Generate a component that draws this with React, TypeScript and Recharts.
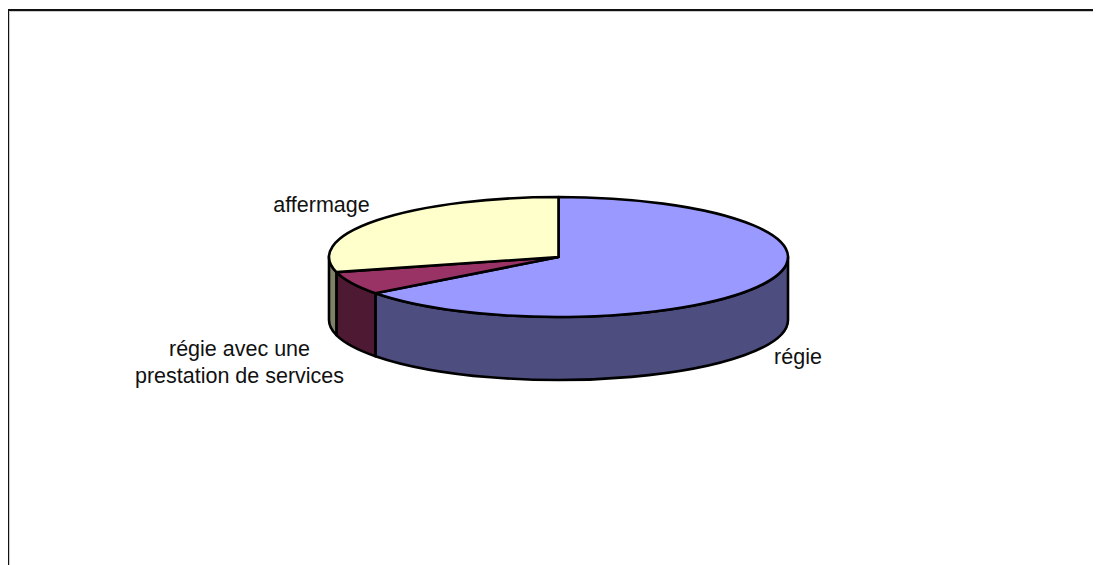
import { PieChart, Pie } from "recharts";

const categories = ["régie", "régie avec une prestation de services", "affermage"];
const values = [64.7, 6.25, 29.05];
const labelRows = [["régie"], ["régie avec une", "prestation de services"], ["affermage"]];

const topColors = ["#9999FF", "#993366", "#FFFFCC"];
const wallColors = ["#4D4D80", "#4D1933", "#808066"];

const CX = 550.5;
const CY = 249;
const RX = 229.5;
const RY = 60;
const DEPTH = 63;

// label centre relative to the pie centre, one per category
const labelOffsets = [
  { x: 239.5, y: 107 },
  { x: -319, y: 99 },
  { x: -237, y: -45 },
];

const data = categories.map((name, i) => ({ name, value: values[i] }));

const pt = (deg: number, cx: number, cy: number) => {
  const a = (deg * Math.PI) / 180;
  return { x: cx + RX * Math.cos(a), y: cy - RY * Math.sin(a) };
};

// the library only draws circles, so each sector is flattened into an ellipse here
const Slice3D = (props: any) => {
  const { cx, cy, startAngle, endAngle, index } = props;
  const s = pt(startAngle, cx, cy);
  const e = pt(endAngle, cx, cy);
  const large = startAngle - endAngle > 180 ? 1 : 0;
  const top = `M${cx},${cy}L${s.x},${s.y}A${RX},${RY} 0 ${large} 1 ${e.x},${e.y}Z`;

  // only the front half of the rim has a visible wall
  const hi = Math.min(startAngle, 0);
  const lo = Math.max(endAngle, -180);
  let wall = "";
  if (hi > lo) {
    const a = pt(hi, cx, cy);
    const b = pt(lo, cx, cy);
    wall =
      `M${a.x},${a.y}A${RX},${RY} 0 0 1 ${b.x},${b.y}` +
      `L${b.x},${b.y + DEPTH}A${RX},${RY} 0 0 0 ${a.x},${a.y + DEPTH}Z`;
  }

  return (
    <g>
      {wall && <path d={wall} fill={wallColors[index]} stroke="#000" strokeWidth={2.6} strokeLinejoin="round" />}
      <path d={top} fill={topColors[index]} stroke="#000" strokeWidth={2.6} strokeLinejoin="round" />
    </g>
  );
};

const renderLabel = (props: any) => {
  const { cx, cy, index } = props;
  const off = labelOffsets[index];
  return (
    <text
      x={cx + off.x}
      y={cy + off.y}
      textAnchor="middle"
      fontFamily="Liberation Sans"
      fontSize={21.5}
      fill="#111"
    >
      {labelRows[index].map((row, i) => (
        <tspan key={i} x={cx + off.x} dy={i === 0 ? 0 : 27}>
          {row}
        </tspan>
      ))}
    </text>
  );
};

const App = () => {
  return (
    <div
      style={{
        position: "relative",
        width: 1093,
        height: 556,
        marginTop: 1,
        overflow: "hidden",
        boxSizing: "border-box",
        borderTop: "2px solid #111",
        borderLeft: "1px solid #111",
        boxShadow: "inset 1px 1px 0 #ccc",
      }}
    >
      <div style={{ position: "absolute", left: -1, top: -3 }}>
        <PieChart width={1093} height={557} margin={{ top: 0, right: 0, bottom: 0, left: 0 }}>
          <Pie
            data={data}
            dataKey="value"
            nameKey="name"
            cx={CX}
            cy={CY}
            innerRadius={0}
            outerRadius={RX}
            startAngle={90}
            endAngle={-270}
            paddingAngle={0}
            shape={Slice3D}
            label={renderLabel}
            labelLine={false}
            isAnimationActive={false}
          />
        </PieChart>
      </div>
    </div>
  );
};

export default App;
